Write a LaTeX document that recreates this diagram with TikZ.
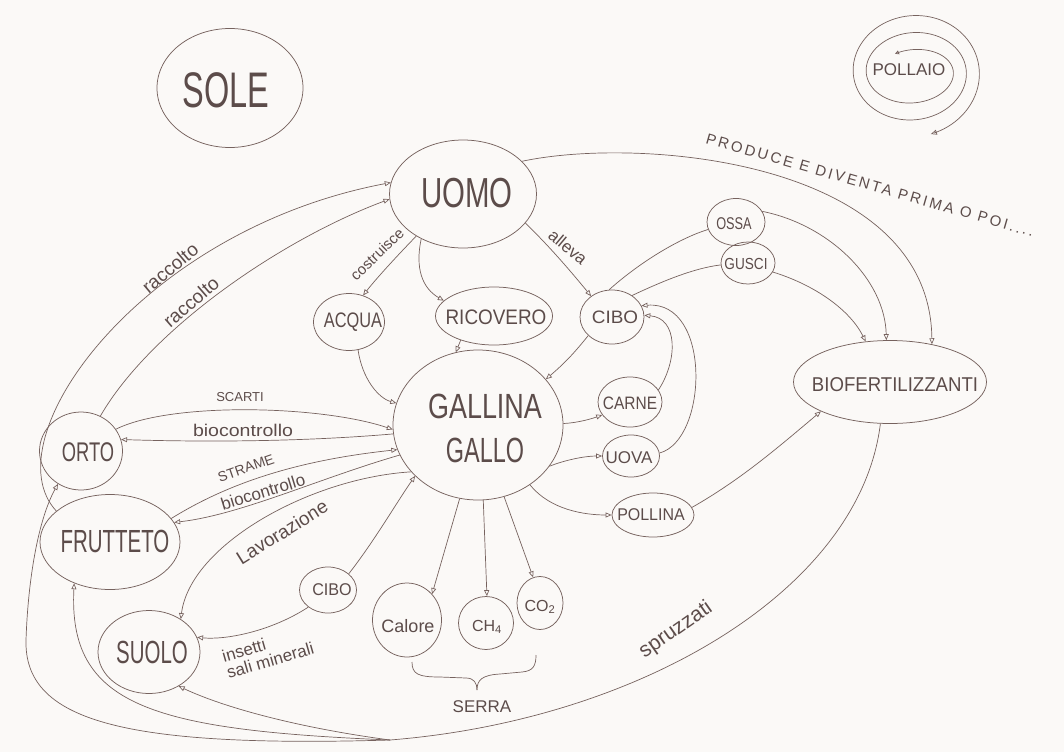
\documentclass[tikz,border=0pt]{standalone}
\usepackage{graphicx}
\usepackage{fontspec}
\setmainfont{Liberation Sans}
\usetikzlibrary{shapes.geometric,arrows.meta}
\definecolor{ink}{RGB}{118,98,94}
\definecolor{inkt}{RGB}{92,76,74}
\definecolor{paper}{RGB}{251,249,247}
\newcommand\fs[1]{\fontsize{#1}{#1}\selectfont}
\newcommand\sq[2]{\scalebox{#1}[1]{#2}}

\begin{document}
\begin{tikzpicture}[x=1pt,y=-1pt,
  blob/.style={draw=ink, line width=0.75pt, ellipse, inner sep=0pt},
  sz/.style 2 args={minimum width=#1pt, minimum height=#2pt},
  word/.style={text=inkt, inner sep=0pt, font=\fs{#1}},
  lnk/.style={draw=ink, line width=0.7pt},
  arr/.style={lnk, -{Triangle[open,length=6pt,width=5pt]}}]

\useasboundingbox (0,0) rectangle (1064,752);
\fill[paper] (0,0) rectangle (1064,752);

% ---------- nodes ----------
\node[blob, sz={146}{119}] (sole) at (230,88) {};
\node[word=50] (sole-t) at (226,90) {\sq{0.65}{SOLE}};

\node[word=17] (pollaio) at (909,70) {POLLAIO};

\node[blob, sz={147}{108}] (uomo) at (463,194) {};
\node[word=42] (uomo-t) at (467,193) {\sq{0.7}{UOMO}};

\node[blob, sz={71}{57}] (acqua) at (349,322) {};
\node[word=21] (acqua-t) at (353,322) {\sq{0.78}{ACQUA}};

\node[blob, sz={117}{58}] (ricovero) at (494,316) {};
\node[word=21] (ricovero-t) at (496,317) {\sq{0.9}{RICOVERO}};

\node[blob, sz={64}{54}] (cibo1) at (612,317) {};
\node[word=18] (cibo1-t) at (615,317) {\sq{1.05}{CIBO}};

\node[blob, sz={58}{47}] (ossa) at (736,222) {};
\node[word=17] (ossa-t) at (734,224) {\sq{0.75}{OSSA}};

\node[blob, sz={54}{42}] (gusci) at (748,263) {};
\node[word=16] (gusci-t) at (746,264) {\sq{0.85}{GUSCI}};

\node[blob, sz={170}{150}] (gallina) at (478,425) {};
\node[word=35, align=center] (gallina-t) at (485,428)
  {\sq{0.77}{GALLINA}\\[9pt]\sq{0.67}{GALLO}};

\node[blob, sz={64}{50}] (carne) at (630,402) {};
\node[word=18] (carne-t) at (630,403) {\sq{0.86}{CARNE}};

\node[blob, sz={57}{42}] (uova) at (631,456) {};
\node[word=17] (uova-t) at (629,458) {UOVA};

\node[blob, sz={82}{44}] (pollina) at (653,515) {};
\node[word=17] (pollina-t) at (651,515) {\sq{0.94}{POLLINA}};

\node[blob, sz={193}{83}] (biof) at (890,382) {};
\node[word=20] (biof-t) at (895,385) {\sq{0.93}{BIOFERTILIZZANTI}};

\node[blob, sz={83}{78}] (orto) at (81,451) {};
\node[word=27] (orto-t) at (88,452) {\sq{0.68}{ORTO}};

\node[blob, sz={140}{95}] (frutteto) at (110,542) {};
\node[word=32] (frutteto-t) at (115,541) {\sq{0.64}{FRUTTETO}};

\node[blob, sz={102}{83}] (suolo) at (149,652) {};
\node[word=32] (suolo-t) at (152,652) {\sq{0.64}{SUOLO}};

\node[blob, sz={57}{46}] (cibo2) at (328,590) {};
\node[word=17] (cibo2-t) at (332,590) {\sq{0.95}{CIBO}};

\node[blob, sz={69}{74}] (calore) at (407,620) {};
\node[word=18] (calore-t) at (408,626) {Calore};

\node[blob, sz={55}{53}] (ch4) at (486,623) {};
\node[word=16] (ch4-t) at (487,627) {CH\textsubscript{4}};

\node[blob, sz={46}{53}] (co2) at (540,603) {};
\node[word=16] (co2-t) at (540,607) {CO\textsubscript{2}};

\node[word=17] (serra) at (482,707) {SERRA};

% ---------- spiral round the henhouse ----------
\draw[lnk, {Triangle[open,length=4pt,width=4pt]}-{Triangle[open,length=6pt,width=5pt]}]
  plot[domain=120:-795, samples=320]
  ({913+(36+13*(120-\x)/360)*cos(\x)},{72-(21+17*(120-\x)/360)*sin(\x)});

% ---------- connectors ----------
\draw[arr] (uomo.29) .. controls (640,136) and (930,160) .. (biof.42);
\node[word=15, rotate=-16] (produce) at (870,185)
  {\addfontfeature{LetterSpace=17}PRODUCE E DIVENTA PRIMA O POI....};

\draw[arr] (ossa.22) .. controls (830,225) and (885,280) .. (biof.95);
\draw[arr] (gusci.-20) .. controls (815,285) and (850,310) .. (biof.121);
\draw[lnk] (cibo1.96) .. controls (640,262) and (680,238) .. (ossa.195);
\draw[lnk] (cibo1.47) .. controls (665,280) and (695,268) .. (gusci.184);

\draw[arr] (uomo.-25) .. controls (548,245) and (568,268) .. (cibo1.135);
\node[word=17, rotate=-40] (alleva) at (568,247) {alleva};

\draw[arr] (uomo.222) .. controls (395,258) and (375,280) .. (acqua.62);
\node[word=15, rotate=44] (costruisce) at (377,254) {costruisce};

\draw[arr] (uomo.227) .. controls (415,268) and (422,288) .. (ricovero.163);
\draw[arr] (ricovero.216) -- (gallina.107);
\draw[arr] (acqua.-72) .. controls (362,378) and (378,398) .. (gallina.165);
\draw[arr] (cibo1.218) .. controls (575,352) and (566,362) .. (gallina.34);

\draw[arr] (gallina.1) .. controls (575,423) and (588,420) .. (carne.205);
\draw[arr] (gallina.-30) .. controls (565,460) and (585,456) .. (uova.180);
\draw[arr] (gallina.-49) .. controls (550,510) and (585,515) .. (pollina.180);
\draw[arr] (carne.23) .. controls (678,360) and (678,318) .. (cibo1.3);
\draw[arr] (uova.6) .. controls (708,440) and (712,300) .. (cibo1.21);
\draw[arr] (pollina.11) .. controls (740,480) and (775,450) .. (biof.203);

% orto and frutteto
\draw[arr] (orto.32) .. controls (170,402) and (320,405) .. (gallina.183);
\node[word=13] (scarti) at (240,397) {SCARTI};
\draw[arr] (gallina.186) .. controls (300,442) and (200,442) .. (orto.16);
\node[word=17] (bio1) at (243,430) {\sq{1.15}{biocontrollo}};

\draw[arr] (frutteto.21) .. controls (230,482) and (300,460) .. (gallina.197);
\node[word=14, rotate=19] (strame) at (246,468) {STRAME};
\draw[arr] (gallina.201) .. controls (320,478) and (240,515) .. (frutteto.17);
\node[word=17, rotate=17] (bio2) at (263,492) {biocontrollo};

\draw[arr] (gallina.215) .. controls (310,478) and (190,545) .. (suolo.46);
\node[word=19, rotate=32] (lavor) at (282,532) {Lavorazione};

\draw[arr] (cibo2.38) .. controls (375,540) and (395,505) .. (gallina.219);
\draw[arr] (cibo2.221) .. controls (270,632) and (225,640) .. (suolo.17);
\node[word=17, rotate=16, align=left] (insetti) at (268,652) {insetti\\sali minerali};

\draw[arr] (gallina.256) -- (calore.46);
\draw[arr] (gallina.274) -- (ch4.88);
\draw[arr] (gallina.290) -- (co2.105);

% brace grouping the greenhouse outputs
\draw[lnk] (412,662) .. controls (412,674) and (418,677) .. (440,677) -- (466,678)
  .. controls (474,678) and (477,683) .. (477,690);
\draw[lnk] (477,690) .. controls (477,680) and (482,675) .. (500,674) -- (522,672)
  .. controls (533,671) and (536,666) .. (536,655);

% harvest back to man
\draw[arr] (orto.61) .. controls (150,330) and (280,240) .. (uomo.184);
\draw[arr] (frutteto.150) .. controls (-10,440) and (140,230) .. (uomo.171);
\node[word=19, rotate=40] (racc1) at (170,268) {raccolto};
\node[word=19, rotate=41] (racc2) at (191,302) {raccolto};

% fertiliser spread back on the land
\coordinate (m) at (390,740);
\draw[lnk] (biof.257) .. controls (860,590) and (640,720) .. (m);
\node[word=21, rotate=35] (spruzz) at (676,630) {spruzzati};
\draw[arr] (m) .. controls (300,728) and (225,708) .. (suolo.311);
\draw[arr] (m) .. controls (150,730) and (68,705) .. (frutteto.229);
\draw[arr] (m) .. controls (120,748) and (24,720) .. (26,640)
  .. controls (28,580) and (38,520) .. (orto.235);

\end{tikzpicture}
\end{document}
